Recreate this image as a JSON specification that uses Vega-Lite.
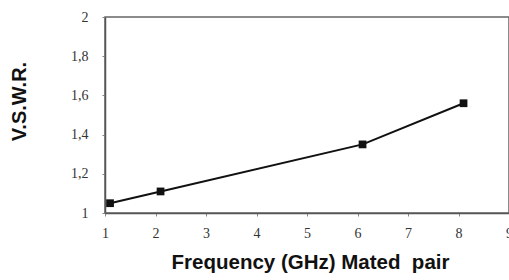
{
  "$schema": "https://vega.github.io/schema/vega-lite/v6.json",
  "width": 404,
  "height": 196,
  "autosize": "none",
  "padding": {"left": 105, "top": 17, "right": 0, "bottom": 67},
  "background": "white",
  "config": {"view": {"stroke": "#666", "strokeWidth": 1.5}},
  "data": {"values": [
    {"freq": 1.1, "vswr": 1.05},
    {"freq": 2.1, "vswr": 1.11},
    {"freq": 6.1, "vswr": 1.35},
    {"freq": 8.1, "vswr": 1.56}
  ]},
  "layer": [
    {"mark": {"type": "line", "color": "#111", "strokeWidth": 2}},
    {"mark": {"type": "point", "shape": "square", "filled": true, "color": "#111", "size": 60, "opacity": 1}}
  ],
  "encoding": {
    "x": {"field": "freq", "type": "quantitative",
      "scale": {"domain": [1, 9], "nice": false, "zero": false},
      "axis": {"values": [1,2,3,4,5,6,7,8,9], "grid": false, "domainColor": "#555", "domainWidth": 1.5,
        "tickColor": "#888", "tickSize": 3, "labelFont": "Liberation Serif", "labelFontSize": 14, "labelColor": "#333",
        "labelPadding": 10, "labelFlush": false, "labelOverlap": false, "format": "~g",
        "title": "Frequency (GHz) Mated\u00a0 pair", "titleFont": "Liberation Sans", "titleFontWeight": "bold", "titleFontSize": 20.5,
        "titleColor": "#111", "titleX": 205, "titleY": 55, "titleBaseline": "alphabetic", "titleAlign": "center"}},
    "y": {"field": "vswr", "type": "quantitative",
      "scale": {"domain": [1, 2], "nice": false, "zero": false},
      "axis": {"values": [1, 1.2, 1.4, 1.6, 1.8, 2], "grid": false, "domainColor": "#555", "domainWidth": 1.5,
        "tickColor": "#888", "tickSize": 3, "labelFont": "Liberation Serif", "labelFontSize": 14, "labelColor": "#333",
        "labelPadding": 14, "labelFlush": false, "labelOverlap": false, "format": "~g",
        "labelExpr": "replace(datum.label, '.', ',')",
        "title": "V.S.W.R.", "titleFont": "Liberation Sans", "titleFontWeight": "bold", "titleFontSize": 20,
        "titleColor": "#111", "titleAngle": -90, "titleX": -86, "titleY": 84, "titleAlign": "center", "titleBaseline": "middle"}}
  }
}
